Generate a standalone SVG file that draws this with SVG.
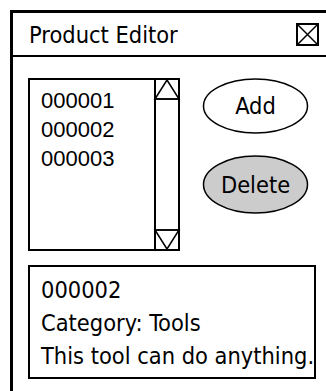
<svg xmlns="http://www.w3.org/2000/svg" width="326" height="391" viewBox="0 0 326 391">
<style>
.t{font-family:"DejaVu Sans Condensed","DejaVu Sans",sans-serif;font-size:23.4px;fill:#000}
.n{font-family:"Liberation Sans",Arial,sans-serif;font-size:22px;fill:#000}
.s{fill:none;stroke:#000;stroke-width:2}
</style>
<rect width="326" height="391" fill="#fff"/>
<g id="window">
<rect x="11.5" y="11.5" width="340" height="400" fill="#fff" stroke="#000" stroke-width="3"/>
<line x1="11" y1="56" x2="326" y2="56" stroke="#000" stroke-width="2"/>
<text class="t" x="29" y="43" font-size="22.5">Product Editor</text>
</g>
<g id="close">
<rect x="297" y="24" width="21" height="21" class="s" stroke-width="1.5"/>
<path d="M297 24L318 45M318 24L297 45" stroke="#000" stroke-width="1.5"/>
</g>
<g id="list">
<rect x="29" y="79" width="150" height="171" class="s"/>
<line x1="155" y1="79" x2="155" y2="250" stroke="#000" stroke-width="2"/>
<path d="M155 99L167 80L179 99Z" fill="none" stroke="#000" stroke-width="1.5"/>
<line x1="155" y1="99" x2="179" y2="99" stroke="#000" stroke-width="1.5"/>
<path d="M155 230L167 249L179 230Z" fill="none" stroke="#000" stroke-width="1.5"/>
<line x1="155" y1="230" x2="179" y2="230" stroke="#000" stroke-width="1.5"/>
<text class="n" x="41" y="108">000001</text>
<text class="n" x="41" y="137">000002</text>
<text class="n" x="41" y="166">000003</text>
</g>
<g id="add">
<ellipse cx="255.5" cy="106" rx="52" ry="27" fill="#fff" stroke="#000" stroke-width="1.5"/>
<text class="t" x="255.5" y="114" text-anchor="middle">Add</text>
</g>
<g id="delete">
<ellipse cx="255.5" cy="184.5" rx="52" ry="28.5" fill="#cccccc" stroke="#000" stroke-width="1.5"/>
<text class="t" x="255.5" y="193" text-anchor="middle">Delete</text>
</g>
<g id="details">
<rect x="29" y="266" width="286" height="112" class="s"/>
<text class="t" x="41" y="298">000002</text>
<text class="t" x="41" y="331">Category: Tools</text>
<text class="t" x="41" y="364">This tool can do anything.</text>
</g>
<g id="connectors"/>
</svg>
